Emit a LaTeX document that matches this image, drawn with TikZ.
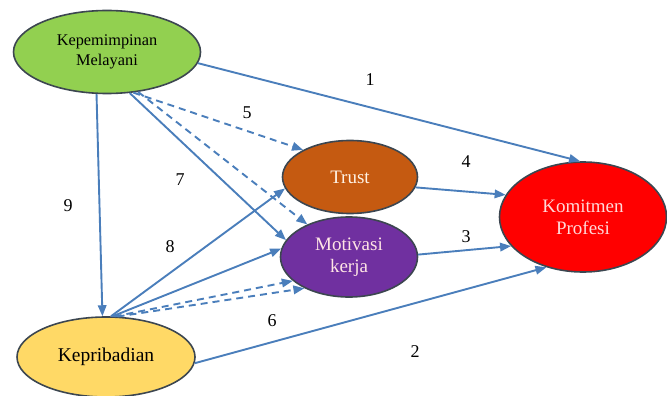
\documentclass[tikz,border=0pt]{standalone}
\usepackage{fontspec}
\setmainfont{Liberation Serif}
\usetikzlibrary{shapes.geometric,arrows.meta}

\definecolor{linkblue}{HTML}{4A7EBB}
\definecolor{rimgray}{HTML}{3C4650}
\definecolor{kmgreen}{HTML}{92D050}
\definecolor{kbyellow}{HTML}{FFD966}
\definecolor{trorange}{HTML}{C55A11}
\definecolor{mkpurple}{HTML}{7030A0}
\definecolor{kpred}{HTML}{FF0000}

\begin{document}
\begin{tikzpicture}[
        x=1pt, y=-1pt,
        construct/.style={draw=rimgray, ellipse, line width=1.6pt, inner sep=0pt, align=center,
            font=\fontsize{19}{22}\selectfont},
        rel/.style={draw=linkblue, line width=1.9pt, -{Triangle[length=11pt,width=8.5pt]}},
        drel/.style={rel, dash pattern=on 7pt off 5pt},
        num/.style={font=\fontsize{18}{20}\selectfont},
    ]
    \useasboundingbox (0,0) rectangle (667,396);

    % constructs
    \node[construct, fill=kmgreen, minimum width=187pt, minimum height=83pt,
        font=\fontsize{16.3}{19.5}\selectfont](km) at (107,52){Kepemimpinan\\Melayani};
    \node[construct, fill=kbyellow, minimum width=178pt, minimum height=80pt,
        font=\fontsize{19.5}{22}\selectfont](kb) at (106,357){Kepribadian};
    \node[construct, fill=trorange, text=orange!10, minimum width=135pt, minimum height=73pt](tr) at (350,177){Trust};
    \node[construct, fill=mkpurple, text=pink!40, minimum width=137pt, minimum height=80pt](mk) at (349,257){Motivasi\\kerja};
    \node[construct, fill=kpred, text=pink!60, minimum width=167pt, minimum height=110pt](kp) at (583,217){Komitmen\\Profesi};

    % paths
    \draw[rel] (km.-7) -- (kp.93);
    \draw[rel] (kb.-4) -- (kp.234);
    \draw[rel] (mk.2) -- (kp.202);
    \draw[rel] (tr.-9) -- (kp.164);
    \draw[drel] (km.-57) -- (tr.150);
    \draw[drel] (km.-52) -- (mk.142);
    \draw[rel] (km.-61) -- (mk.165);
    \draw[rel] (km.-104) -- (kb.95);
    \draw[rel] (kb.83) -- (tr.190);
    \draw[rel] (kb.81) -- (mk.173);
    \draw[drel] (kb.78) -- (mk.203);
    \draw[drel] (kb.74) -- (mk.215);

    % path numbers
    \node[num](n1) at (370,80){1};
    \node[num](n2) at (415,352){2};
    \node[num](n3) at (466,237){3};
    \node[num](n4) at (466,162){4};
    \node[num](n5) at (247,113){5};
    \node[num](n6) at (272,321){6};
    \node[num](n7) at (180,180){7};
    \node[num](n8) at (170,247){8};
    \node[num](n9) at (68,206){9};

\end{tikzpicture}
\end{document}
